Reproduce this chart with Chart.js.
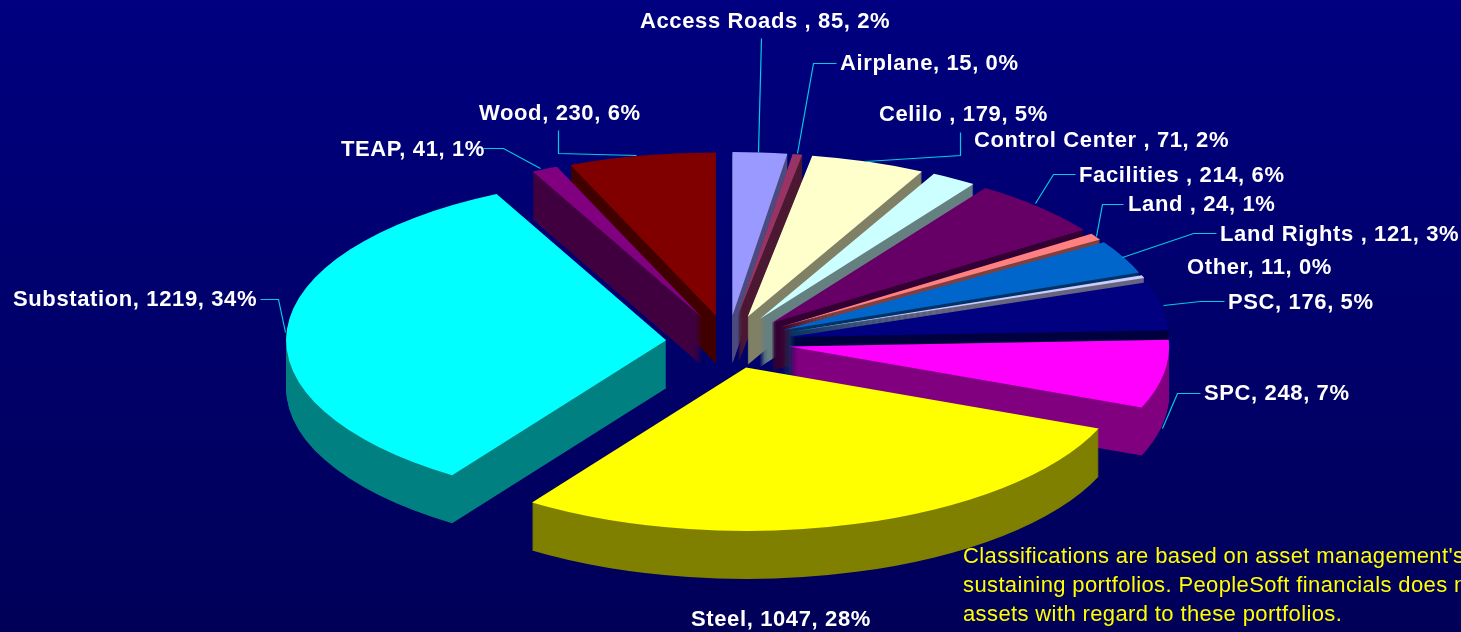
<!DOCTYPE html>
<html>
<head>
<meta charset="utf-8">
<style>html,body{margin:0;padding:0;background:#000060;overflow:hidden}canvas{display:block}</style>
<script src="https://cdn.jsdelivr.net/npm/chart.js@4/dist/chart.umd.min.js"></script>
</head>
<body>
<canvas id="c" width="1461" height="632"></canvas>
<script>
const categories = ["Access Roads ","Airplane","Celilo ","Control Center ","Facilities ","Land ","Land Rights ","Other","PSC","SPC","Steel","Substation","TEAP","Wood"];
const values = [85,15,179,71,214,24,121,11,176,248,1047,1219,41,230];
const percents = [2,0,5,2,6,1,3,0,5,7,28,34,1,6];
const topColors = ["#9999FF","#993366","#FFFFCC","#CCFFFF","#660066","#FF8080","#0066CC","#CCCCFF","#000080","#FF00FF","#FFFF00","#00FFFF","#800080","#800000"];
const wallColors = ["#4C4C80","#4C1933","#808066","#668080","#330033","#804040","#003366","#666680","#000040","#800080","#808000","#008080","#400040","#400000"];
const noteLines = ["Classifications are based on asset management's","sustaining portfolios. PeopleSoft financials does not","assets with regard to these portfolios."];

// annotation layout (label left edge + vertical centre, leader polyline)
const labelLayout = [
  {x:640,y:22,line:[[761,38],[758,152]]},
  {x:840,y:64,line:[[836,63],[813,63],[797,153]]},
  {x:879,y:115,line:[[960,132],[960,155],[865,161]]},
  {x:974,y:141},
  {x:1079,y:176,line:[[1075,174],[1053,174],[1035,203]]},
  {x:1128,y:205,line:[[1123,204],[1102,204],[1096,236]]},
  {x:1220,y:235,line:[[1216,233],[1193,233],[1122,257]]},
  {x:1187,y:268},
  {x:1228,y:303,line:[[1224,301],[1200,301],[1163,305]]},
  {x:1204,y:394,line:[[1200,393],[1177,393],[1162,428]]},
  {x:691,y:620},
  {x:13,y:300,line:[[260,299],[278,299],[285,332]]},
  {x:341,y:150,line:[[483,148],[503,148],[540,168]]},
  {x:479,y:114,line:[[558,130],[558,153],[636,155]]}
];
const SQUASH = 0.43, DEPTH = 48, EXPLODE = 62, RADIUS = 380;

const pie3d = {
  id:'pie3d',
  beforeDraw(chart){
    const {ctx,width,height} = chart;
    const g = ctx.createLinearGradient(0,0,0,height);
    g.addColorStop(0,'#000080'); g.addColorStop(1,'#000058');
    ctx.save(); ctx.fillStyle=g; ctx.fillRect(0,0,width,height); ctx.restore();
  },
  beforeDatasetDraw(chart,args){
    const {ctx} = chart;
    const arcs = args.meta.data.map((arc,i)=>({arc,i,mid:(arc.startAngle+arc.endAngle)/2}));
    arcs.sort((a,b)=>Math.sin(a.mid)-Math.sin(b.mid));
    for(const {arc,i,mid} of arcs){
      const base = arc.options;
      const wall = Object.assign(Object.create(base),{backgroundColor:wallColors[i]});
      const paint = (d,opts)=>{
        ctx.save();
        ctx.translate(arc.x,arc.y+d);
        ctx.scale(1,SQUASH);
        ctx.translate(-arc.x,-arc.y);
        ctx.translate(EXPLODE*Math.cos(mid),EXPLODE*Math.sin(mid));
        arc.options = opts;
        arc.draw(ctx);
        ctx.restore();
      };
      for(let d=DEPTH;d>0;d--) paint(d,wall);
      paint(0,base);
      arc.options = base;
    }
    return false;
  },
  afterDatasetsDraw(chart){
    const {ctx} = chart;
    ctx.save();
    ctx.save();
    ctx.translate(0.5,0.5);
    ctx.strokeStyle='#00CCDD'; ctx.lineWidth=1.2;
    labelLayout.forEach(l=>{
      if(!l.line) return;
      ctx.beginPath();
      l.line.forEach(([x,y],k)=>k?ctx.lineTo(x,y):ctx.moveTo(x,y));
      ctx.stroke();
    });
    ctx.restore();
    ctx.fillStyle='#FFFFFF';
    ctx.font='bold 22px "Liberation Sans", Arial, sans-serif';
    ctx.letterSpacing='0.62px';
    ctx.textBaseline='middle'; ctx.textAlign='left';
    categories.forEach((c,i)=>{
      ctx.fillText(`${c}, ${values[i]}, ${percents[i]}%`,labelLayout[i].x,labelLayout[i].y);
    });
    ctx.fillStyle='#FFFF00';
    ctx.letterSpacing='0.38px';
    ctx.font='22px "Liberation Sans", Arial, sans-serif';
    noteLines.forEach((t,i)=>ctx.fillText(t,963,557+i*29));
    ctx.restore();
  }
};

new Chart(document.getElementById('c'),{
  type:'pie',
  data:{labels:categories,datasets:[{data:values,backgroundColor:topColors,borderWidth:0,radius:RADIUS}]},
  options:{
    responsive:false,animation:false,
    layout:{padding:{top:52,right:5}},
    plugins:{legend:{display:false},tooltip:{enabled:false}}
  },
  plugins:[pie3d]
});
</script>
</body>
</html>
